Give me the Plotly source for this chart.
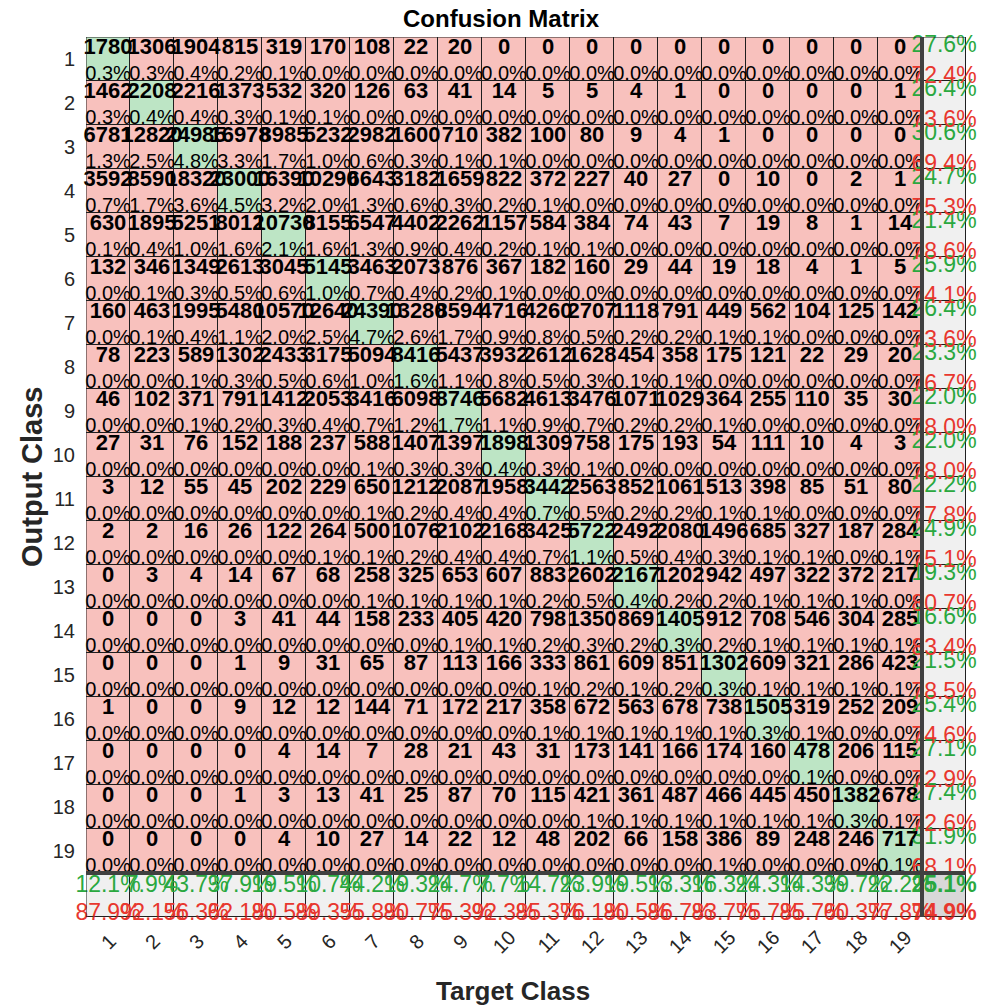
import plotly.graph_objects as go

# Class labels (target classes on x, output classes on y)
classes = [str(i) for i in range(1, 20)]

# Confusion counts: rows = output class, columns = target class
row_01 = [1780, 1306, 1904, 815, 319, 170, 108, 22, 20, 0, 0, 0, 0, 0, 0, 0, 0, 0, 0]
row_02 = [1462, 2208, 2216, 1373, 532, 320, 126, 63, 41, 14, 5, 5, 4, 1, 0, 0, 0, 0, 1]
row_03 = [6781, 12820, 24985, 16978, 8985, 5232, 2982, 1600, 710, 382, 100, 80, 9, 4, 1, 0, 0, 0, 0]
row_04 = [3592, 8590, 18320, 23000, 16390, 10290, 6643, 3182, 1659, 822, 372, 227, 40, 27, 0, 10, 0, 2, 1]
row_05 = [630, 1895, 5251, 8012, 10730, 8155, 6547, 4402, 2262, 1157, 584, 384, 74, 43, 7, 19, 8, 1, 14]
row_06 = [132, 346, 1349, 2613, 3045, 5145, 3463, 2073, 876, 367, 182, 160, 29, 44, 19, 18, 4, 1, 5]
row_07 = [160, 463, 1995, 5480, 10570, 12640, 24390, 13280, 8594, 4716, 4260, 2707, 1118, 791, 449, 562, 104, 125, 142]
row_08 = [78, 223, 589, 1302, 2433, 3175, 5094, 8416, 5437, 3932, 2612, 1628, 454, 358, 175, 121, 22, 29, 20]
row_09 = [46, 102, 371, 791, 1412, 2053, 3416, 6098, 8746, 5682, 4613, 3476, 1071, 1029, 364, 255, 110, 35, 30]
row_10 = [27, 31, 76, 152, 188, 237, 588, 1407, 1397, 1898, 1309, 758, 175, 193, 54, 111, 10, 4, 3]
row_11 = [3, 12, 55, 45, 202, 229, 650, 1212, 2087, 1958, 3442, 2563, 852, 1061, 513, 398, 85, 51, 80]
row_12 = [2, 2, 16, 26, 122, 264, 500, 1076, 2102, 2168, 3425, 5722, 2492, 2080, 1496, 685, 327, 187, 284]
row_13 = [0, 3, 4, 14, 67, 68, 258, 325, 653, 607, 883, 2602, 2167, 1202, 942, 497, 322, 372, 217]
row_14 = [0, 0, 0, 3, 41, 44, 158, 233, 405, 420, 798, 1350, 869, 1405, 912, 708, 546, 304, 285]
row_15 = [0, 0, 0, 1, 9, 31, 65, 87, 113, 166, 333, 861, 609, 851, 1302, 609, 321, 286, 423]
row_16 = [1, 0, 0, 9, 12, 12, 144, 71, 172, 217, 358, 672, 563, 678, 738, 1505, 319, 252, 209]
row_17 = [0, 0, 0, 0, 4, 14, 7, 28, 21, 43, 31, 173, 141, 166, 174, 160, 478, 206, 115]
row_18 = [0, 0, 0, 1, 3, 13, 41, 25, 87, 70, 115, 421, 361, 487, 466, 445, 450, 1382, 678]
row_19 = [0, 0, 0, 0, 4, 10, 27, 14, 22, 12, 48, 202, 66, 158, 386, 89, 248, 246, 717]

counts = [row_01, row_02, row_03, row_04, row_05, row_06, row_07, row_08, row_09, row_10,
          row_11, row_12, row_13, row_14, row_15, row_16, row_17, row_18, row_19]

n = len(classes)
total = sum(sum(r) for r in counts)
row_sums = [sum(r) for r in counts]
col_sums = [sum(counts[i][j] for i in range(n)) for j in range(n)]
diag_total = sum(counts[i][i] for i in range(n))

# Colours
RED_CELL = "#f8c1bd"
GREEN_CELL = "#bde5c5"
GRAY_CELL = "#f0f0f0"
DARK_GRAY_CELL = "#d8d8d8"
GREEN_TXT = "#2aa83f"
RED_TXT = "#e8372e"
FONT = "Liberation Sans, Arial, Helvetica, sans-serif"

# Cell category grid (n+1 x n+1): 0 off-diagonal, 1 diagonal, 2 summary, 3 overall
z = []
for i in range(n + 1):
    line = []
    for j in range(n + 1):
        if i == n and j == n:
            line.append(3)
        elif i == n or j == n:
            line.append(2)
        elif i == j:
            line.append(1)
        else:
            line.append(0)
    z.append(line)

positions = list(range(1, n + 2))

fig = go.Figure()
fig.add_trace(go.Heatmap(
    z=z, x=positions, y=positions,
    colorscale=[[0.0, RED_CELL], [0.25, RED_CELL], [0.25, GREEN_CELL], [0.5, GREEN_CELL],
                [0.5, GRAY_CELL], [0.75, GRAY_CELL], [0.75, DARK_GRAY_CELL], [1.0, DARK_GRAY_CELL]],
    zmin=0, zmax=3, showscale=False, xgap=1, ygap=1, hoverinfo="skip",
))

def pct(v):
    return f"{v:.1f}%"

def text_trace(xs, ys, texts, size, color, weight="normal"):
    return go.Scatter(x=xs, y=ys, text=texts, mode="text", hoverinfo="skip",
                      cliponaxis=False, showlegend=False, textposition="middle center",
                      textfont=dict(family=FONT, size=size, color=color, weight=weight))

# Counts and share of total in every cell
cx, cy, ct = [], [], []
px_, py_, pt = [], [], []
for i in range(n):
    for j in range(n):
        v = counts[i][j]
        cx.append(j + 1); cy.append(i + 1 - 0.25); ct.append(str(v))
        px_.append(j + 1); py_.append(i + 1 + 0.36); pt.append(pct(100.0 * v / total))

fig.add_trace(text_trace(cx, cy, ct, 22, "black", "bold"))
fig.add_trace(text_trace(px_, py_, pt, 20, "black"))

# Per-class precision (right column) and recall (bottom row), plus overall accuracy
gx, gy, gt, rx, ry, rt = [], [], [], [], [], []
for i in range(n):
    p = 100.0 * counts[i][i] / row_sums[i]
    gx.append(n + 1); gy.append(i + 1 - 0.28); gt.append(pct(p))
    rx.append(n + 1); ry.append(i + 1 + 0.42); rt.append(pct(100 - p))
for j in range(n):
    r = 100.0 * counts[j][j] / col_sums[j]
    gx.append(j + 1); gy.append(n + 1 - 0.2); gt.append(pct(r))
    rx.append(j + 1); ry.append(n + 1 + 0.43); rt.append(pct(100 - r))
acc = 100.0 * diag_total / total

fig.add_trace(text_trace(gx, gy, gt, 23, GREEN_TXT))
fig.add_trace(text_trace(rx, ry, rt, 23, RED_TXT))
fig.add_trace(text_trace([n + 1], [n + 1 - 0.2], [pct(acc)], 23, GREEN_TXT, "bold"))
fig.add_trace(text_trace([n + 1], [n + 1 + 0.43], [pct(100 - acc)], 23, RED_TXT, "bold"))

# Frame and thick separators around the summary row / column
shapes = [
    dict(type="rect", xref="x", yref="y", x0=0.5, x1=n + 1.5, y0=0.5, y1=n + 1.5,
         line=dict(color="#222222", width=1)),
    dict(type="line", xref="x", yref="y", x0=n + 0.5, x1=n + 0.5, y0=0.5, y1=n + 1.5,
         line=dict(color="#404040", width=4)),
    dict(type="line", xref="x", yref="y", x0=0.5, x1=n + 1.5, y0=n + 0.5, y1=n + 0.5,
         line=dict(color="#404040", width=4)),
]

annotations = [
    dict(text="<b>Confusion Matrix</b>", xref="paper", yref="paper", x=0.4727, y=1, yshift=19,
         showarrow=False, font=dict(family=FONT, size=24, color="black"),
         xanchor="center", yanchor="middle"),
    dict(text="<b>Output Class</b>", xref="paper", yref="paper", x=-0.0614, y=0.5,
         showarrow=False, textangle=-90, font=dict(family=FONT, size=29, color="#262626"),
         xanchor="center", yanchor="middle"),
    dict(text="<b>Target Class</b>", xref="paper", yref="paper", x=0.485, y=0, yshift=-74,
         showarrow=False, font=dict(family=FONT, size=26, color="#262626"),
         xanchor="center", yanchor="middle"),
]
for k, lab in enumerate(classes):
    annotations.append(dict(text=lab, xref="x", yref="paper", x=k + 1, y=0, yshift=-25,
                            showarrow=False, textangle=-45,
                            font=dict(family=FONT, size=20, color="#262626"),
                            xanchor="center", yanchor="middle"))

fig.update_layout(
    width=982, height=1007,
    margin=dict(l=86, r=16, t=37, b=90),
    paper_bgcolor="white", plot_bgcolor="#1e1e1e",
    shapes=shapes, annotations=annotations, showlegend=False,
    xaxis=dict(range=[0.5, n + 1.5], showgrid=False, zeroline=False, showticklabels=False,
               ticks="", fixedrange=True),
    yaxis=dict(range=[n + 1.5, 0.5], showgrid=False, zeroline=False,
               tickvals=list(range(1, n + 1)), ticktext=classes, ticks="",
               ticklabelstandoff=10,
               tickfont=dict(family=FONT, size=20, color="#262626"), fixedrange=True),
)

fig.write_html("out.html")
